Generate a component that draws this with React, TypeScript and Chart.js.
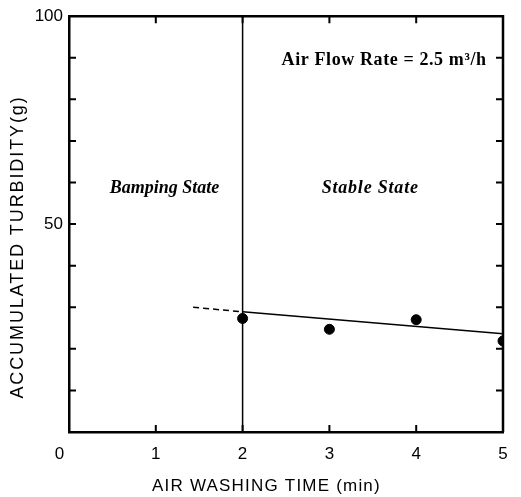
import React, { useEffect, useRef } from 'react';
import { Chart, registerables } from 'chart.js';

Chart.register(...registerables);

// ---- data ----
const timeMin = [2, 3, 4, 5];
const turbidity = [27.3, 24.7, 27.0, 21.9];
const fitX = [2, 5];
const fitY = [28.9, 23.6];
const extX = [1.43, 2];
const extY = [30.0, 28.9];
const boundaryX = [2, 2];
const boundaryY = [0, 100];
const yLabelValues = [50, 100];
const xMinorTicks = [1, 2, 3, 4];
const yMinorTicks = [10, 20, 30, 40, 50, 60, 70, 80, 90];

const xTitle = 'AIR WASHING TIME (min)';
const yTitle = 'ACCUMULATED TURBIDITY(g)';

const annoTexts = ['Bamping State', 'Stable State', 'Air Flow Rate = 2.5 m³/h'];
const annoX = [1.1, 3.47, 3.63];
const annoY = [58.6, 58.6, 89.5];

const framePlugin = {
  id: 'framePlugin',
  afterDraw(chart: any) {
    const { ctx, chartArea } = chart;
    const xs = chart.scales.x;
    const ys = chart.scales.y;
    const { left, right, top, bottom } = chartArea;
    ctx.save();
    ctx.strokeStyle = '#000';
    ctx.lineWidth = 2.5;
    ctx.beginPath();
    ctx.moveTo(left, top);
    ctx.lineTo(right, top);
    ctx.lineTo(right, bottom);
    ctx.stroke();
    ctx.lineWidth = 2;
    const len = 7;
    ctx.beginPath();
    xMinorTicks.forEach((v) => {
      const px = xs.getPixelForValue(v);
      ctx.moveTo(px, bottom);
      ctx.lineTo(px, bottom - len);
      ctx.moveTo(px, top);
      ctx.lineTo(px, top + len);
    });
    yMinorTicks.forEach((v) => {
      const py = ys.getPixelForValue(v);
      ctx.moveTo(left, py);
      ctx.lineTo(left + len, py);
      ctx.moveTo(right, py);
      ctx.lineTo(right - len, py);
    });
    ctx.stroke();

    ctx.fillStyle = '#000';
    ctx.textAlign = 'center';
    ctx.textBaseline = 'middle';
    const spacing = ['0px', '0.8px', '0.6px'];
    annoTexts.forEach((t, i) => {
      ctx.font = i < 2 ? 'italic bold 18px "Liberation Serif"' : 'bold 18px "Liberation Serif"';
      (ctx as any).letterSpacing = spacing[i];
      ctx.fillText(t, xs.getPixelForValue(annoX[i]), ys.getPixelForValue(annoY[i]));
    });

    // axis titles
    ctx.font = '17px "Liberation Sans", Arial, sans-serif';
    (ctx as any).letterSpacing = '1.2px';
    ctx.fillText(xTitle, left + (right - left) * 0.455, bottom + 54);
    ctx.save();
    ctx.translate(18, top + (bottom - top) * 0.555);
    ctx.rotate(-Math.PI / 2);
    ctx.font = '18px "Liberation Sans", Arial, sans-serif';
    (ctx as any).letterSpacing = '1.9px';
    ctx.fillText(yTitle, 0, 0);
    ctx.restore();
    ctx.restore();
  },
};

export default function App() {
  const ref = useRef<HTMLCanvasElement>(null);
  useEffect(() => {
    if (!ref.current) return;
    const font = { family: '"Liberation Sans", Arial, sans-serif', size: 17 };
    const chart = new Chart(ref.current, {
      type: 'scatter',
      data: {
        datasets: [
          {
            type: 'line',
            data: boundaryX.map((x, i) => ({ x, y: boundaryY[i] })),
            borderColor: '#000',
            borderWidth: 1.5,
            pointRadius: 0,
            showLine: true,
          } as any,
          {
            type: 'line',
            data: fitX.map((x, i) => ({ x, y: fitY[i] })),
            borderColor: '#000',
            borderWidth: 1.5,
            pointRadius: 0,
            showLine: true,
          } as any,
          {
            type: 'line',
            data: extX.map((x, i) => ({ x, y: extY[i] })),
            borderColor: '#000',
            borderWidth: 1.5,
            borderDash: [6, 4],
            pointRadius: 0,
            showLine: true,
          } as any,
          {
            data: timeMin.map((x, i) => ({ x, y: turbidity[i] })),
            backgroundColor: '#000',
            borderColor: '#000',
            pointRadius: 5,
            pointHoverRadius: 5,
          },
        ],
      },
      options: {
        animation: false,
        responsive: false,
        devicePixelRatio: 1,
        layout: { padding: { left: 0, top: 13, right: 18, bottom: 0 } },
        plugins: { legend: { display: false }, tooltip: { enabled: false } },
        scales: {
          x: {
            type: 'linear',
            min: 0,
            max: 5,
            afterFit: (s: any) => {
              s.height = 65;
            },
            grid: { display: false, drawTicks: false },
            border: { display: true, color: '#000', width: 2.5 },
            ticks: {
              stepSize: 1,
              padding: 12,
              color: '#000',
              font,
              autoSkip: false,
              callback: (v: any) => (Number(v) === 0 ? '0    ' : String(v)),
            },
          },
          y: {
            type: 'linear',
            min: 0,
            max: 100,
            afterFit: (s: any) => {
              s.width = 69;
            },
            grid: { display: false, drawTicks: false },
            border: { display: true, color: '#000', width: 2.5 },
            ticks: {
              stepSize: 10,
              autoSkip: false,
              padding: 6,
              color: '#000',
              font,
              callback: (v: any) => (yLabelValues.includes(Number(v)) ? String(v) : ''),
            },
          },
        },
      },
      plugins: [framePlugin],
    });
    return () => chart.destroy();
  }, []);
  return (
    <div style={{ position: 'absolute', left: 0, top: 0, width: 521, height: 497 }}>
      <canvas ref={ref} width={521} height={497} />
    </div>
  );
}
